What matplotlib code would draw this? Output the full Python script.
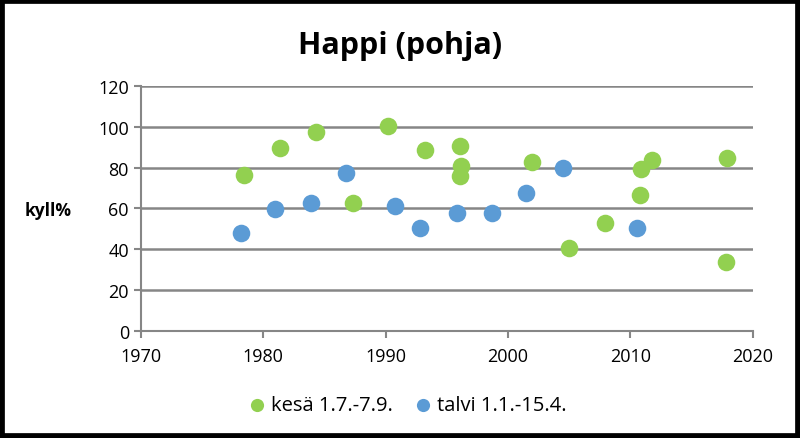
import matplotlib.pyplot as plt
from matplotlib.patches import Rectangle

# kesä 1.7.-7.9.
kesa_vuosi = [1978.4, 1981.4, 1984.3, 1987.3, 1990.2, 1993.2, 1996.1, 1996.2, 1996.1,
              2002.0, 2005.0, 2007.9, 2010.8, 2010.9, 2011.8, 2017.9, 2017.8]
kesa_kyll = [76.5, 89.6, 97.5, 62.5, 100.5, 88.7, 90.7, 80.6, 75.7,
             82.5, 40.5, 52.6, 66.7, 79.4, 83.7, 84.5, 33.5]

# talvi 1.1.-15.4.
talvi_vuosi = [1978.2, 1981.0, 1983.9, 1986.8, 1990.8, 1992.8, 1995.8, 1998.7,
               2001.5, 2004.5, 2010.5]
talvi_kyll = [47.7, 59.5, 62.5, 77.5, 61.3, 50.3, 57.7, 57.7, 67.6, 79.6, 50.3]

plt.rcParams['font.family'] = ['Open Sans', 'DejaVu Sans']

fig = plt.figure(figsize=(8, 4.39), dpi=100)
ax = fig.add_axes([0.176, 0.2444, 0.765, 0.5574])

ax.scatter(kesa_vuosi, kesa_kyll, s=160, color='#92D050', label='kesä 1.7.-7.9.', zorder=3, linewidths=0)
ax.scatter(talvi_vuosi, talvi_kyll, s=160, color='#5B9BD5', label='talvi 1.1.-15.4.', zorder=3, linewidths=0)

ax.set_xlim(1970, 2020)
ax.set_ylim(0, 120)
ax.set_xticks(range(1970, 2021, 10))
ax.set_yticks(range(0, 121, 20))
ax.tick_params(labelsize=13, colors='#868686', labelcolor='black', length=5, width=1.5)
ax.tick_params(axis='x', pad=7)

ax.grid(axis='y', color='#868686', linewidth=1.8, zorder=0)
ax.set_axisbelow(True)
for s in ['top', 'right']:
    ax.spines[s].set_visible(False)
for s in ['left', 'bottom']:
    ax.spines[s].set_color('#868686')
    ax.spines[s].set_linewidth(1.5)

fig.text(0.5, 0.895, 'Happi (pohja)', ha='center', va='center', fontsize=22, fontweight='bold')
fig.text(0.06, 0.52, 'kyll%', ha='center', va='center', fontsize=12.5, fontweight='bold')

fig.legend(loc='center', bbox_to_anchor=(0.51, 0.075), ncol=2, frameon=False, fontsize=14.5,
           handlelength=0.8, handletextpad=0.3, columnspacing=1.1, markerscale=0.75)

# musta kehys
fig.patches.append(Rectangle((0, 0), 1, 1, transform=fig.transFigure, fill=False,
                             edgecolor='black', linewidth=7))

plt.savefig('out.png', dpi=100)
